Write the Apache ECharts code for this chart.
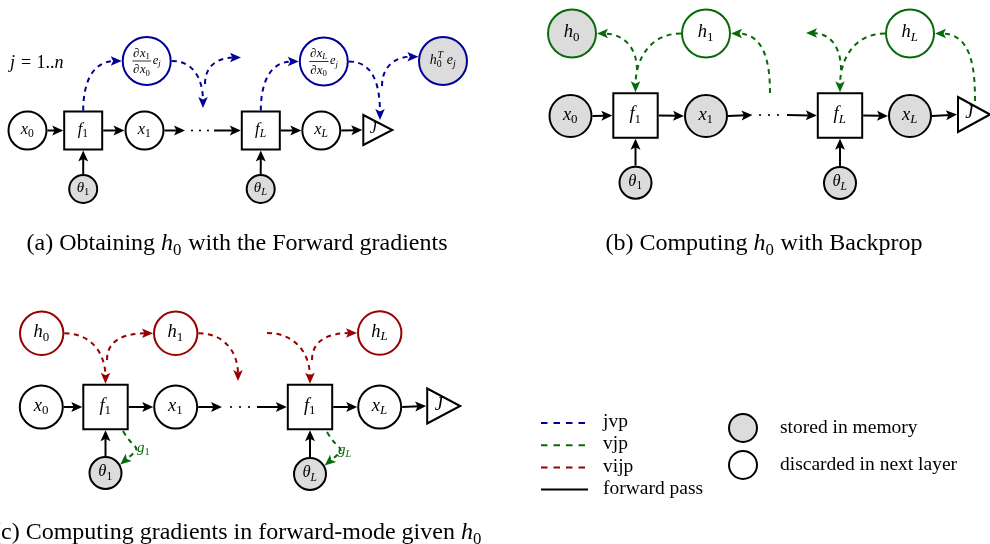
<!DOCTYPE html>
<html>
<head>
<meta charset="utf-8">
<script src="https://cdn.jsdelivr.net/npm/echarts@6.0.0/dist/echarts.min.js"></script>
<style>
html,body{margin:0;padding:0;background:#ffffff;}
#chart{width:990px;height:544px;}
</style>
</head>
<body>
<div id="chart"></div>
<script>
// ======================= DATA =======================
// Nodes of each sub-figure: [id, x, y, shape, label, memory]
const nodesA = [
  ['a_x0', 27.5, 130.5, 'circle', 'x_0', 'discarded'],
  ['a_f1', 83.2, 130.5, 'square', 'f_1', 'op'],
  ['a_x1', 144.5, 130.5, 'circle', 'x_1', 'discarded'],
  ['a_dots', 200, 130.5, 'dots', '', 'op'],
  ['a_fL', 260.8, 130.5, 'square', 'f_L', 'op'],
  ['a_xL', 321.3, 130.5, 'circle', 'x_L', 'discarded'],
  ['a_J', 377.8, 130, 'triangle', 'J', 'op'],
  ['a_t1', 83.2, 189, 'theta', '\u03b8_1', 'stored'],
  ['a_tL', 260.7, 189, 'theta', '\u03b8_L', 'stored'],
  ['a_g1', 146.7, 61, 'state', '\u2202x_1|\u2202x_0|e_j', 'discarded'],
  ['a_gL', 323.8, 61.5, 'state', '\u2202x_L|\u2202x_0|e_j', 'discarded'],
  ['a_h0', 443, 61, 'state', 'h_0^T e_j', 'stored']
];
const nodesB = [
  ['b_x0', 570.5, 116, 'circle', 'x_0', 'stored'],
  ['b_f1', 635.5, 115.5, 'square', 'f_1', 'op'],
  ['b_x1', 706, 116, 'circle', 'x_1', 'stored'],
  ['b_dots', 769, 115, 'dots', '', 'op'],
  ['b_fL', 840, 115.5, 'square', 'f_L', 'op'],
  ['b_xL', 910, 116, 'circle', 'x_L', 'stored'],
  ['b_J', 974, 114.5, 'triangle', 'J', 'op'],
  ['b_t1', 635.5, 182.7, 'theta', '\u03b8_1', 'stored'],
  ['b_tL', 840, 183, 'theta', '\u03b8_L', 'stored'],
  ['b_h0', 572, 33.5, 'state', 'h_0', 'stored'],
  ['b_h1', 706, 33.5, 'state', 'h_1', 'discarded'],
  ['b_hL', 910, 33.5, 'state', 'h_L', 'discarded']
];
const nodesC = [
  ['c_x0', 41.3, 407, 'circle', 'x_0', 'discarded'],
  ['c_f1', 105.5, 407, 'square', 'f_1', 'op'],
  ['c_x1', 175.7, 407, 'circle', 'x_1', 'discarded'],
  ['c_dots', 240, 407, 'dots', '', 'op'],
  ['c_fL', 310, 407, 'square', 'f_1', 'op'],
  ['c_xL', 379.7, 407, 'circle', 'x_L', 'discarded'],
  ['c_J', 443.7, 406, 'triangle', 'J', 'op'],
  ['c_t1', 105.5, 473, 'theta', '\u03b8_1', 'stored'],
  ['c_tL', 310, 474, 'theta', '\u03b8_L', 'stored'],
  ['c_h0', 41.7, 333.3, 'state', 'h_0', 'discarded'],
  ['c_h1', 175.7, 333.3, 'state', 'h_1', 'discarded'],
  ['c_hL', 379.7, 333, 'state', 'h_L', 'discarded']
];

// Forward-pass connections (solid arrows): [from, to]
const forwardA = [['a_x0','a_f1'],['a_f1','a_x1'],['a_x1','a_dots'],['a_dots','a_fL'],['a_fL','a_xL'],['a_xL','a_J'],['a_t1','a_f1'],['a_tL','a_fL']];
const forwardB = [['b_x0','b_f1'],['b_f1','b_x1'],['b_x1','b_dots'],['b_dots','b_fL'],['b_fL','b_xL'],['b_xL','b_J'],['b_t1','b_f1'],['b_tL','b_fL']];
const forwardC = [['c_x0','c_f1'],['c_f1','c_x1'],['c_x1','c_dots'],['c_dots','c_fL'],['c_fL','c_xL'],['c_xL','c_J'],['c_t1','c_f1'],['c_tL','c_fL']];

// Dashed flows: [start, outAngle, end, inAngle, looseness]; start/end: [nodeId, side|angle] or free point [x, y]
const jvpFlows = [
  [['a_f1','n'], 90, ['a_g1',180], 180, 1],
  [['a_g1',0], 0, [203,108], 90, 1],
  [[205,84], 90, [241,57.5], 180, 1],
  [['a_fL','n'], 90, ['a_gL',180], 180, 1],
  [['a_gL',0], 0, [380,120], 90, 1],
  [[382,86], 90, ['a_h0',170], 180, 1]
];
const vjpFlows = [
  [['b_h1',180], 180, ['b_f1','n'], 90, 1],
  [[637,70], 90, ['b_h0',0], 0, 1],
  [[770,93], 90, ['b_h1',0], 0, 1],
  [['b_hL',180], 180, ['b_fL','n'], 90, 1],
  [[841,70], 90, [806,33], 0, 1],
  [[975,101], 90, ['b_hL',0], 0, 1]
];
const vijpFlows = [
  [['c_h0',0], 0, ['c_f1','n'], 90, 1],
  [[107,360], 90, ['c_h1',180], 180, 1],
  [['c_h1',0], 0, [238,381], 90, 1],
  [[267,333], 0, ['c_fL','n'], 90, 1],
  [[312,360], 90, ['c_hL',180], 180, 1]
];
const gradFlows = [
  [[123,431], -60, ['c_t1',30], 40, 1.9],
  [[327,432], -60, ['c_tL',30], 40, 1.9]
];

// Text
const iterLabel = [[['j = 1..n','math']], 10, 63];
const gradLabels = [[[['g_1','math']], 137, 448], [[['g_L','math']], 338, 450]];
const captions = [
  [[['(a) Obtaining ','rm'],['h_0','math'],[' with the Forward gradients','rm']], 237, 244],
  [[['(b) Computing ','rm'],['h_0','math'],[' with Backprop','rm']], 764, 244],
  [[['(c) Computing gradients in forward-mode given ','rm'],['h_0','math']], 237.5, 533]
];
const legendLineNames = ['jvp','vjp','vijp','forward pass'];
const legendLineKinds = ['jvp','vjp','vijp','forward'];
const legendNodeNames = ['stored in memory','discarded in next layer'];
const legendNodeKinds = ['stored','discarded'];

// ======================= STYLE =======================
const FONT = "'Liberation Serif', 'Times New Roman', serif";
const COLOR = {jvp:'#000099', vjp:'#0a6a0a', vijp:'#990000', forward:'#000000'};
const FILL = {stored:'#dcdcdc', discarded:'#ffffff', op:'#ffffff'};
const PANEL = {
  a:{flow:'jvp', circle:19, square:19, theta:14, state:24, tri:[29,30], font:16.5, thetaFont:15, stateFont:14, fracFont:12.5, dotL:15, dotR:14, dotStep:8},
  b:{flow:'vjp', circle:21, square:22.2, theta:16, state:24, tri:[32,35], font:18.5, thetaFont:16.5, stateFont:18.5, fracFont:13, dotL:16.5, dotR:18, dotStep:9},
  c:{flow:'vijp', circle:21.5, square:22.2, theta:16, state:21.7, tri:[33,35], font:18.5, thetaFont:16.5, stateFont:18.5, fracFont:13, dotL:18, dotR:17, dotStep:9}
};
const LW = 2;
const HEAD = {L:11, W:10};
const DASH = [5, 4.5];
const CAPTION_SIZE = 24;
const LEGEND = {x0:541, x1:588, y0:423, step:22.2, tx:603, cx:743, cy0:428, cstep:37, r:14, ctx:780, font:19.5};

// ======================= HELPERS =======================
const mctx = document.createElement('canvas').getContext('2d');
function fontStr(st, size){ return (st==='it'?'italic ':'normal ') + 'normal ' + size + 'px ' + FONT; }
function measure(t, st, size){ mctx.font = fontStr(st, size); return mctx.measureText(t).width; }
const isRoman = c => /[0-9=.(),+\-]/.test(c);
const styleOf = c => isRoman(c) ? 'rm' : 'it';
function parseMath(s){
  const atoms = []; let i = 0;
  const readArg = () => { if (s[i] === '{') { const j = s.indexOf('}', i); const a = s.slice(i+1, j); i = j+1; return a; } return s[i++]; };
  while (i < s.length) {
    const ch = s[i];
    if (ch === '_') { i++; atoms[atoms.length-1].sub = readArg(); continue; }
    if (ch === '^') { i++; atoms[atoms.length-1].sup = readArg(); continue; }
    i++; atoms.push({base: ch});
  }
  return atoms;
}
function layoutSegs(segs, size){
  const items = []; let x = 0;
  for (const [text, mode] of segs) {
    if (mode === 'rm') { items.push({t:text, st:'rm', sz:size, x, dy:0}); x += measure(text, 'rm', size); continue; }
    for (const a of parseMath(text)) {
      if (a.base === ' ') { x += size*0.3; continue; }
      const st = styleOf(a.base);
      items.push({t:a.base, st, sz:size, x, dy:0});
      x += measure(a.base, st, size) + (st==='it' ? size*0.03 : 0);
      const ss = size*0.7; let ex = 0;
      if (a.sub !== undefined) { const s2 = styleOf(a.sub[0]); items.push({t:a.sub, st:s2, sz:ss, x:x - (st==='it'?size*0.03:0), dy:size*0.27}); ex = Math.max(ex, measure(a.sub, s2, ss)); }
      if (a.sup !== undefined) { const s2 = styleOf(a.sup[0]); items.push({t:a.sup, st:s2, sz:ss, x:x + size*0.02, dy:-size*0.36}); ex = Math.max(ex, measure(a.sup, s2, ss)); }
      x += ex;
    }
  }
  return {items, width:x};
}
function textEls(segs, x, y, size, color, align){
  const L = layoutSegs(segs, size);
  const x0 = align === 'left' ? x : align === 'right' ? x - L.width : x - L.width/2;
  return L.items.map(it => ({type:'text', silent:true, style:{text:it.t, x:x0+it.x, y:y+it.dy, fill:color,
    fontSize:it.sz, fontFamily:FONT, fontStyle:it.st==='it'?'italic':'normal', align:'left', verticalAlign:'middle'}}));
}
function headPts(tip, dir, L, W){
  const px = -dir[1], py = dir[0];
  return [[tip[0],tip[1]],
    [tip[0]-dir[0]*L+px*W/2, tip[1]-dir[1]*L+py*W/2],
    [tip[0]-dir[0]*L*0.78, tip[1]-dir[1]*L*0.78],
    [tip[0]-dir[0]*L-px*W/2, tip[1]-dir[1]*L-py*W/2]];
}

// ======================= MODEL =======================
const allNodes = [...nodesA, ...nodesB, ...nodesC].map(r => ({id:r[0], x:r[1], y:r[2], shape:r[3], label:r[4], mem:r[5], panel:r[0][0]}));
const nodeById = {}; allNodes.forEach(n => nodeById[n.id] = n);
function radiusOf(n){ const P = PANEL[n.panel]; return n.shape==='circle'?P.circle : n.shape==='theta'?P.theta : n.shape==='state'?P.state : 0; }
function anchor(ref){
  if (typeof ref[0] === 'number') return [ref[0], ref[1]];
  const n = nodeById[ref[0]], side = ref[1], P = PANEL[n.panel], pad = LW/2;
  if (n.shape === 'square') { const h = P.square + pad; return side==='n'?[n.x,n.y-h] : side==='s'?[n.x,n.y+h] : side==='e'?[n.x+h,n.y] : [n.x-h,n.y]; }
  if (n.shape === 'triangle') return [n.x - P.tri[0]/2 - pad, n.y];
  if (n.shape === 'dots') return side==='e' ? [n.x+P.dotR, n.y] : [n.x-P.dotL, n.y];
  const ang = (typeof side === 'number' ? side : {e:0,n:90,w:180,s:270}[side]) * Math.PI/180;
  const r = radiusOf(n) + pad;
  return [n.x + r*Math.cos(ang), n.y - r*Math.sin(ang)];
}
const forwardData = [...forwardA, ...forwardB, ...forwardC].map(([f,t]) => {
  const A = nodeById[f], B = nodeById[t];
  const horiz = Math.abs(B.x-A.x) > Math.abs(B.y-A.y);
  const s = anchor([f, horiz?'e':'n']), e = anchor([t, horiz?'w':'s']);
  return [s[0], s[1], e[0], e[1]];
});
function flowData(list){ return list.map(([s,oa,e,ia,lo]) => { const p0 = anchor(s), p3 = anchor(e); return [p0[0], p0[1], oa, p3[0], p3[1], ia, lo]; }); }

// ======================= RENDERERS =======================
function renderForward(params, api){
  const p0 = api.coord([api.value(0), api.value(1)]), p1 = api.coord([api.value(2), api.value(3)]);
  const len = Math.hypot(p1[0]-p0[0], p1[1]-p0[1]);
  const dir = [(p1[0]-p0[0])/len, (p1[1]-p0[1])/len];
  const q = [p1[0]-dir[0]*HEAD.L*0.6, p1[1]-dir[1]*HEAD.L*0.6];
  return {type:'group', children:[
    {type:'line', shape:{x1:p0[0], y1:p0[1], x2:q[0], y2:q[1]}, style:{stroke:COLOR.forward, lineWidth:LW}},
    {type:'polygon', shape:{points:headPts(p1, dir, HEAD.L, HEAD.W)}, style:{fill:COLOR.forward}}
  ]};
}
function renderFlow(color){
  return function(params, api){
    const p0 = api.coord([api.value(0), api.value(1)]), p3 = api.coord([api.value(3), api.value(4)]);
    const oa = api.value(2)*Math.PI/180, ia = api.value(5)*Math.PI/180, lo = api.value(6);
    const d = 0.3915*Math.hypot(p3[0]-p0[0], p3[1]-p0[1])*lo;
    const c1 = [p0[0]+d*Math.cos(oa), p0[1]-d*Math.sin(oa)];
    const ui = [Math.cos(ia), -Math.sin(ia)];
    const c2 = [p3[0]+d*ui[0], p3[1]+d*ui[1]];
    const dir = [-ui[0], -ui[1]];
    const b = HEAD.L*0.6;
    return {type:'group', children:[
      {type:'bezierCurve', shape:{x1:p0[0], y1:p0[1], cpx1:c1[0], cpy1:c1[1], cpx2:c2[0]-dir[0]*b, cpy2:c2[1]-dir[1]*b, x2:p3[0]-dir[0]*b, y2:p3[1]-dir[1]*b},
        style:{stroke:color, fill:null, lineWidth:LW, lineDash:DASH}},
      {type:'polygon', shape:{points:headPts(p3, dir, HEAD.L, HEAD.W-0.5)}, style:{fill:color}}
    ]};
  };
}
function renderNode(params, api){
  const n = allNodes[params.dataIndex], P = PANEL[n.panel];
  const [cx, cy] = api.coord([n.x, n.y]);
  const fill = FILL[n.mem];
  const stroke = n.shape === 'state' ? COLOR[P.flow] : '#000';
  const els = [];
  if (n.shape === 'circle' || n.shape === 'theta' || n.shape === 'state') {
    els.push({type:'circle', shape:{cx, cy, r:radiusOf(n)}, style:{fill, stroke, lineWidth:LW}});
  } else if (n.shape === 'square') {
    const h = P.square;
    els.push({type:'rect', shape:{x:cx-h, y:cy-h, width:2*h, height:2*h}, style:{fill, stroke, lineWidth:LW}});
  } else if (n.shape === 'triangle') {
    const [w, h] = P.tri;
    els.push({type:'polygon', shape:{points:[[cx-w/2, cy-h/2],[cx+w/2, cy],[cx-w/2, cy+h/2]]}, style:{fill, stroke, lineWidth:LW, lineJoin:'miter'}});
  } else if (n.shape === 'dots') {
    for (let k = -1; k <= 1; k++) els.push({type:'circle', shape:{cx:cx+k*P.dotStep, cy, r:1.1}, style:{fill:'#000'}});
  }
  if (n.label) {
    if (n.label.indexOf('|') >= 0) {
      const [num, den, rest] = n.label.split('|');
      const fs = P.fracFont;
      const wn = layoutSegs([[num,'math']], fs).width, wd = layoutSegs([[den,'math']], fs).width;
      const wr = layoutSegs([[rest,'math']], fs).width;
      const bw = Math.max(wn, wd) + 2;
      const total = bw + 1.5 + wr;
      const fx = cx - total/2 + bw/2;
      els.push(...textEls([[num,'math']], fx, cy - 0.62*fs, fs, '#000', 'center'));
      els.push({type:'line', shape:{x1:fx-bw/2, y1:cy, x2:fx+bw/2, y2:cy}, style:{stroke:'#000', lineWidth:0.8}});
      els.push(...textEls([[den,'math']], fx, cy + 0.72*fs, fs, '#000', 'center'));
      els.push(...textEls([[rest,'math']], fx + bw/2 + 1.5, cy - 0.5, fs, '#000', 'left'));
    } else {
      const size = n.shape === 'theta' ? P.thetaFont : n.shape === 'state' ? P.stateFont : P.font;
      let lx = cx;
      if (n.shape === 'triangle') lx = cx - P.tri[0]/2 + P.tri[0]*0.36;
      els.push(...textEls([[n.label,'math']], lx, cy - size*0.06, size, '#000', 'center'));
    }
  }
  return {type:'group', children:els};
}
const textItems = [
  {segs:iterLabel[0], x:iterLabel[1], y:iterLabel[2], size:18, color:'#000', align:'left'},
  ...gradLabels.map(g => ({segs:g[0], x:g[1], y:g[2], size:15, color:COLOR.vjp, align:'left'})),
  ...captions.map(c => ({segs:c[0], x:c[1], y:c[2], size:CAPTION_SIZE, color:'#000', align:'center'}))
];
function renderText(params, api){
  const t = textItems[params.dataIndex];
  const [x, y] = api.coord([t.x, t.y]);
  return {type:'group', children:textEls(t.segs, x, y, t.size, t.color, t.align)};
}
const legendItems = [
  ...legendLineNames.map((name, i) => ({kind:'line', name, style:legendLineKinds[i], x:LEGEND.x0, y:LEGEND.y0 + i*LEGEND.step})),
  ...legendNodeNames.map((name, i) => ({kind:'node', name, style:legendNodeKinds[i], x:LEGEND.cx, y:LEGEND.cy0 + i*LEGEND.cstep}))
];
function renderLegend(params, api){
  const it = legendItems[params.dataIndex];
  const [x, y] = api.coord([it.x, it.y]);
  const els = [];
  if (it.kind === 'line') {
    const dashed = it.style !== 'forward';
    els.push({type:'line', shape:{x1:x, y1:y, x2:x + (LEGEND.x1-LEGEND.x0), y2:y}, style:{stroke:COLOR[it.style], lineWidth:LW, lineDash: dashed ? [6.5,6] : null}});
    els.push({type:'text', style:{text:it.name, x:LEGEND.tx, y:y - 1, fill:'#000', fontSize:LEGEND.font, fontFamily:FONT, align:'left', verticalAlign:'middle'}});
  } else {
    els.push({type:'circle', shape:{cx:x, cy:y, r:LEGEND.r}, style:{fill:FILL[it.style], stroke:'#000', lineWidth:LW}});
    els.push({type:'text', style:{text:it.name, x:LEGEND.ctx, y:y, fill:'#000', fontSize:LEGEND.font, fontFamily:FONT, align:'left', verticalAlign:'middle'}});
  }
  return {type:'group', children:els};
}

// ======================= CHART =======================
const chart = echarts.init(document.getElementById('chart'), null, {renderer:'canvas'});
const flowSeries = (name, list, color) => ({type:'custom', name, coordinateSystem:'cartesian2d', renderItem:renderFlow(color), data:flowData(list), z:2, silent:true, clip:false});
chart.setOption({
  animation:false,
  backgroundColor:'#ffffff',
  grid:{left:0, right:0, top:0, bottom:0},
  xAxis:{type:'value', min:0, max:990, show:false},
  yAxis:{type:'value', min:0, max:544, inverse:true, show:false},
  series:[
    {type:'custom', name:'forward pass', coordinateSystem:'cartesian2d', renderItem:renderForward, data:forwardData, z:1, silent:true, clip:false},
    flowSeries('jvp', jvpFlows, COLOR.jvp),
    flowSeries('vjp', vjpFlows, COLOR.vjp),
    flowSeries('vijp', vijpFlows, COLOR.vijp),
    flowSeries('grad', gradFlows, COLOR.vjp),
    {type:'custom', name:'nodes', coordinateSystem:'cartesian2d', renderItem:renderNode, data:allNodes.map(n => [n.x, n.y]), z:3, silent:true, clip:false},
    {type:'custom', name:'texts', coordinateSystem:'cartesian2d', renderItem:renderText, data:textItems.map(t => [t.x, t.y]), z:4, silent:true, clip:false},
    {type:'custom', name:'legend', coordinateSystem:'cartesian2d', renderItem:renderLegend, data:legendItems.map(t => [t.x, t.y]), z:4, silent:true, clip:false}
  ]
});
</script>
</body>
</html>
